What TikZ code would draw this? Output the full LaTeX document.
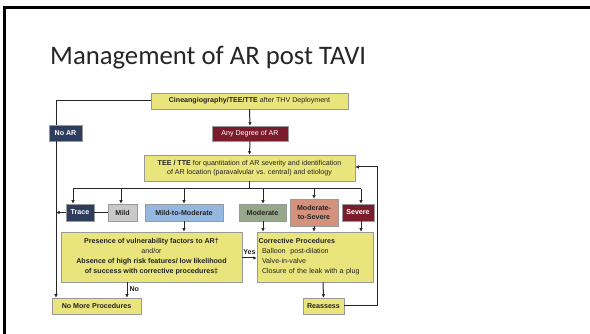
\documentclass[tikz,border=0pt]{standalone}
\usepackage{fontspec}
\setmainfont{Liberation Sans}
\newfontfamily\titlefont{Carlito}
\usetikzlibrary{arrows.meta}
\definecolor{navy}{RGB}{46,61,94}
\definecolor{maroon}{RGB}{123,28,44}
\definecolor{mildgrey}{RGB}{201,201,201}
\definecolor{lblue}{RGB}{148,184,223}
\definecolor{modgreen}{RGB}{152,167,138}
\definecolor{salmon}{RGB}{212,145,123}
\definecolor{yel}{RGB}{233,228,124}
\definecolor{txt}{RGB}{35,35,35}
\newcommand{\bxf}{\fontsize{7.1}{8.6}\selectfont}
\tikzset{
  box/.style={draw=black!40, line width=0.5pt, inner sep=0pt, align=center,
    font=\bxf, text=txt},
  ybox/.style={box, fill=yel},
  bbox/.style={box, font=\bxf\bfseries},
  dbox/.style={bbox, text=white},
  conn/.style={draw=black!85, line width=1pt},
  arr/.style={conn, -{Latex[length=3.5pt,width=3.5pt]}},
  lab/.style={font=\bxf\bfseries, text=txt, inner sep=0pt}
}
\begin{document}
\begin{tikzpicture}[x=1pt,y=-1pt]
\useasboundingbox (0,0) rectangle (590,334);
\fill[white] (0,0) rectangle (590,334);
\fill[black] (3,6) rectangle (590,9);
\fill[black] (3,6) rectangle (6,334);
\node[anchor=west, font=\titlefont\fontsize{26.7}{28}\selectfont, text=black!85, inner sep=0pt] (title) at (50,58) {Management of AR post TAVI};

\node[ybox, minimum width=197pt, minimum height=16pt] (cine) at (249.5,101) {\textbf{Cineangiography/TEE/TTE} after THV Deployment};
\node[dbox, fill=navy, minimum width=33pt, minimum height=16pt] (noar) at (65.5,133) {No AR};
\node[box, fill=maroon, text=white, minimum width=76pt, minimum height=15pt] (any) at (250,133.5) {Any Degree of AR};
\node[ybox, minimum width=211pt, minimum height=26pt, font=\fontsize{7.1}{9.6}\selectfont] (tee) at (249.5,168) {\textbf{TEE / TTE} for quantitation of AR severity and identification\\of AR location (paravalvular vs. central) and etiology};

\node[dbox, fill=navy, minimum width=28pt, minimum height=17pt] (trace) at (80,212.5) {Trace};
\node[bbox, fill=mildgrey, minimum width=29pt, minimum height=17pt] (mild) at (122.5,212.5) {Mild};
\node[bbox, fill=lblue, minimum width=78pt, minimum height=17pt] (mtm) at (184,212.5) {Mild-to-Moderate};
\node[bbox, fill=modgreen, minimum width=47pt, minimum height=17pt] (mod) at (262.5,212.5) {Moderate};
\node[bbox, fill=salmon, minimum width=48pt, minimum height=27pt] (mts) at (314,212.5) {Moderate-\\to-Severe};
\node[dbox, fill=maroon, minimum width=32pt, minimum height=17pt] (sev) at (358,212.5) {Severe};

\node[ybox, minimum width=181pt, minimum height=50pt, font=\fontsize{7.1}{10}\selectfont] (pres) at (151.5,257) {\textbf{Presence of vulnerability factors to AR†}\\and/or\\\textbf{Absence of high risk features/ low likelihood}\\\textbf{of success with corrective procedures‡}};
\node[ybox, minimum width=116pt, minimum height=50pt, text width=113pt, align=left, font=\fontsize{7.1}{10}\selectfont] (corr) at (315,257) {\textbf{Corrective Procedures}\\\hspace*{3.5pt}Balloon\ \ post-dilation\\\hspace*{3.5pt}Valve-in-valve\\\hspace*{3.5pt}Closure of the leak with a plug};

\node[bbox, fill=yel, minimum width=89pt, minimum height=16pt] (nomore) at (96.5,306) {No More Procedures};
\node[bbox, fill=yel, minimum width=41pt, minimum height=16pt] (reass) at (323.5,306) {Reassess};

% connectors
\draw[arr] (cine.south) -- (any.north);
\draw[arr] (any.south) -- (tee.north);
\coordinate (nl) at (56,101);
\draw[conn] (cine.west) -- (nl) -- (noar.north -| nl);
\draw[arr] (noar.south -| nl) -- (nomore.north -| nl);

\coordinate (bus) at (249.5,189);
\draw[conn] (tee.south) -- (bus);
\draw[conn] (73,189) -- (361,189);
\draw[arr] (73,189) -- (trace.north -| 73,0);
\draw[arr] (121,189) -- (mild.north -| 121,0);
\draw[arr] (184,189) -- (mtm.north);
\draw[arr] (263,189) -- (mod.north -| 263,0);
\draw[arr] (314,189) -- (mts.north);
\draw[arr] (361,189) -- (sev.north -| 361,0);

\draw[arr] (trace.west) -- (trace.west -| nl);
\draw[conn] (trace.east) -- (mild.west);

\draw[arr] (mtm.south) -- (pres.north -| mtm.south);
\draw[arr] (263,221) -- (corr.north -| 263,0);
\draw[arr] (mts.south) -- (corr.north -| mts.south);
\draw[arr] (361,221) -- (corr.north -| 361,0);

\draw[arr] (pres.east |- 0,258) -- (corr.west |- 0,258) node[lab, midway, above=2.5pt] {Yes};
\draw[arr] (127,282) -- (nomore.north -| 127,0) node[lab, pos=0.45, right=2pt] {No};
\draw[arr] (corr.south -| 323,0) -- (reass.north);
\coordinate (rr) at (377,306);
\draw[arr] (reass.east) -- (rr) -- (377,167) -- (tee.east |- 0,167);
\end{tikzpicture}
\end{document}
